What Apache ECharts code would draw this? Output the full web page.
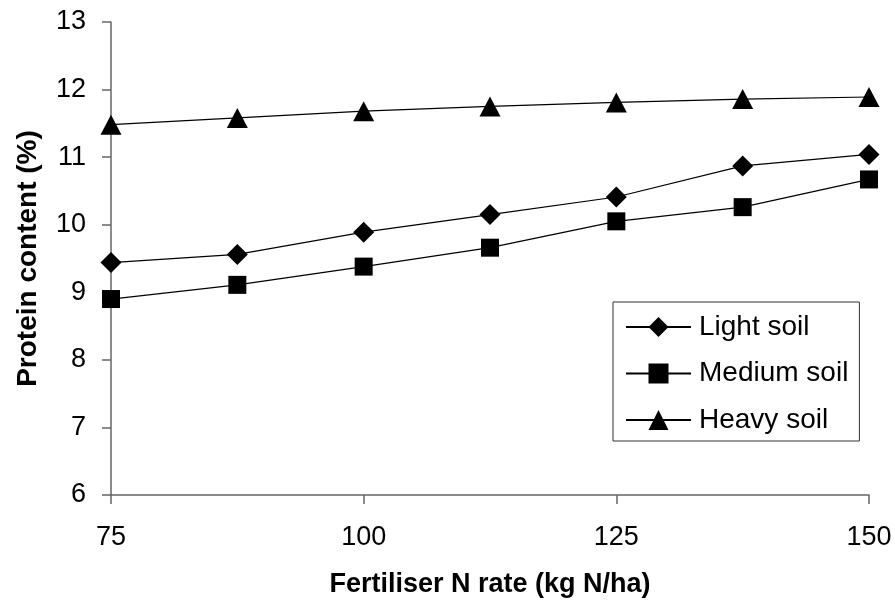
<!DOCTYPE html>
<html>
<head>
<meta charset="utf-8">
<script src="https://cdn.jsdelivr.net/npm/echarts@6/dist/echarts.min.js"></script>
<style>
  html, body { margin: 0; padding: 0; background: #fff; }
  #chart { width: 895px; height: 606px; }
</style>
</head>
<body>
<div id="chart"></div>
<script>
// Fertiliser N rate (kg N/ha) at which protein content was measured
const nRates = [75, 87.5, 100, 112.5, 125, 137.5, 150];
// Protein content (%) for each soil type
const lightSoil  = [9.44, 9.56, 9.89, 10.15, 10.41, 10.87, 11.04];
const mediumSoil = [8.90, 9.11, 9.38, 9.66, 10.05, 10.26, 10.67];
const heavySoil  = [11.48, 11.58, 11.68, 11.75, 11.81, 11.86, 11.89];
const seriesNames = ['Light soil', 'Medium soil', 'Heavy soil'];
const xTicks = [75, 100, 125, 150];
const yTicks = [6, 7, 8, 9, 10, 11, 12, 13];

const font = 'Liberation Sans, Arial, sans-serif';
const axisColor = '#666';

function pairs(values) {
  return nRates.map((x, i) => [x, values[i]]);
}

function lineSeries(name, values, symbol, size) {
  return {
    name: name,
    type: 'line',
    data: pairs(values),
    symbol: symbol,
    symbolSize: size,
    showAllSymbol: true,
    lineStyle: { color: '#000', width: 1.2 },
    itemStyle: { color: '#000' },
    emphasis: { disabled: true },
    animation: false
  };
}

const chart = echarts.init(document.getElementById('chart'));
chart.setOption({
  backgroundColor: '#fff',
  animation: false,
  textStyle: { fontFamily: font, color: '#000' },
  grid: { left: 111, right: 26, top: 22, bottom: 111, containLabel: false },
  xAxis: {
    type: 'value',
    min: xTicks[0],
    max: xTicks[xTicks.length - 1],
    interval: 25,
    name: 'Fertiliser N rate (kg N/ha)',
    nameLocation: 'middle',
    nameGap: 76,
    nameTextStyle: { fontSize: 27, fontWeight: 'bold', color: '#000', fontFamily: font },
    axisLine: { onZero: false, lineStyle: { color: axisColor, width: 1.5 } },
    axisTick: { show: true, length: 9, inside: false, lineStyle: { color: axisColor, width: 1.5 } },
    axisLabel: { fontSize: 27, color: '#000', margin: 29, fontFamily: font },
    splitLine: { show: false }
  },
  yAxis: {
    type: 'value',
    min: yTicks[0],
    max: yTicks[yTicks.length - 1],
    interval: 1,
    name: 'Protein content (%)',
    nameLocation: 'middle',
    nameGap: 69,
    nameTextStyle: { fontSize: 28, fontWeight: 'bold', color: '#000', fontFamily: font },
    axisLine: { show: true, lineStyle: { color: axisColor, width: 1.5 } },
    axisTick: { show: true, length: 9, inside: false, lineStyle: { color: axisColor, width: 1.5 } },
    axisLabel: { fontSize: 27, color: '#000', margin: 25, fontFamily: font },
    splitLine: { show: false }
  },
  legend: {
    data: seriesNames,
    orient: 'vertical',
    left: 613,
    top: 302,
    padding: [11, 11, 7, 12],
    itemGap: 18.5,
    itemWidth: 65,
    itemHeight: 25,
    borderColor: '#333',
    borderWidth: 1,
    backgroundColor: '#fff',
    selectedMode: false,
    textStyle: { fontSize: 28, color: '#000', fontFamily: font, padding: [0, 0, 0, 3] }
  },
  series: [
    lineSeries(seriesNames[0], lightSoil, 'diamond', [21, 21]),
    lineSeries(seriesNames[1], mediumSoil, 'rect', [18, 18]),
    lineSeries(seriesNames[2], heavySoil, 'triangle', [21, 20])
  ]
});
</script>
</body>
</html>
